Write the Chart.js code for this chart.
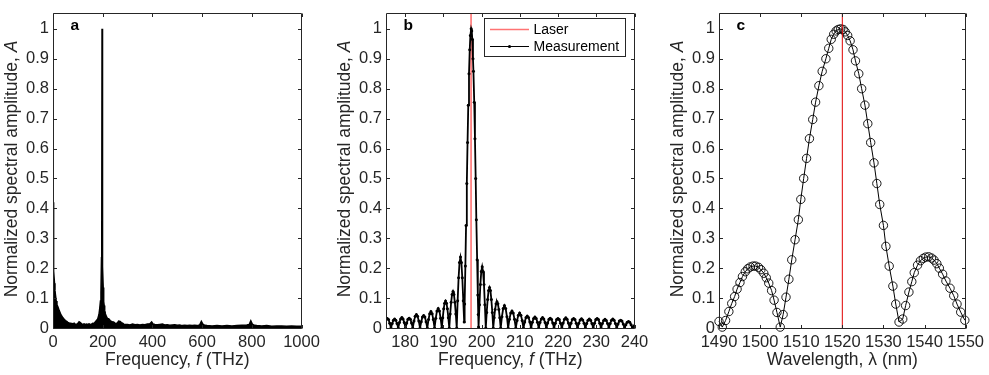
<!DOCTYPE html>
<html>
<head>
<meta charset="utf-8">
<script src="https://cdn.jsdelivr.net/npm/chart.js@4.4.1/dist/chart.umd.min.js"></script>
<style>
  html, body { margin: 0; padding: 0; background: #fff; }
  #wrap { position: relative; width: 989px; height: 375px; overflow: hidden; }
  #wrap canvas { position: absolute; top: 0; }
</style>
</head>
<body>
<div id="wrap">
  <canvas id="pa" width="333" height="375" style="left:0px"></canvas>
  <canvas id="pb" width="333" height="375" style="left:333px"></canvas>
  <canvas id="pc" width="323" height="375" style="left:666px"></canvas>
</div>
<script>
// ---------- tick values ----------
const yTicks  = [0, 0.1, 0.2, 0.3, 0.4, 0.5, 0.6, 0.7, 0.8, 0.9, 1];
const xTicksA = [0, 200, 400, 600, 800, 1000];
const xTicksB = [180, 190, 200, 210, 220, 230, 240];
const xTicksC = [1490, 1500, 1510, 1520, 1530, 1540, 1550];

// ---------- laser reference ----------
const laserFreq = 197.25;        // THz
const laserWavelength = 1520;    // nm

// ---------- (a) full spectrum, 0-1000 THz ----------
const freqA = [
  0, 1, 2, 3, 4, 6, 8, 10, 13, 16, 20, 25, 30, 35, 40, 45, 50, 55, 60, 65, 70, 75, 80, 85, 90, 95,
  100, 105, 110, 115, 120, 125, 130, 135, 140, 145, 150, 155, 160, 165, 170, 175, 180, 185, 188, 191, 193,
  195.2, 196, 197.3, 198.5, 200.1, 202, 204, 206, 208, 211, 216, 220, 224, 230, 235, 240, 244, 250, 255,
  260, 264, 270, 275, 280, 285, 290, 300, 310, 320, 330, 340, 350, 360, 370, 380, 390, 397, 403, 410,
  420, 430, 440, 450, 460, 470, 480, 490, 500, 510, 520, 530, 540, 550, 560, 570, 580, 590, 597, 603,
  610, 620, 640, 660, 680, 700, 720, 740, 760, 780, 790, 796, 802, 810, 820, 840, 860, 880, 900, 920,
  940, 960, 980, 1000
];
const ampA = [
  0.42, 0.39, 0.25, 0.24, 0.19, 0.15, 0.125, 0.11, 0.09, 0.078, 0.07, 0.058, 0.048, 0.04, 0.034, 0.029, 0.025, 0.022, 0.019, 0.017, 0.016, 0.015, 0.014, 0.016, 0.012, 0.013,
  0.015, 0.021, 0.018, 0.014, 0.012, 0.014, 0.011, 0.013, 0.012, 0.014, 0.012, 0.013, 0.016, 0.015, 0.02, 0.025, 0.03, 0.045, 0.065, 0.09, 0.12,
  0.237, 0.16, 1.0, 0.3, 0.205, 0.135, 0.088, 0.075, 0.06, 0.047, 0.036, 0.031, 0.031, 0.025, 0.022, 0.02, 0.02, 0.016, 0.015,
  0.018, 0.023, 0.022, 0.018, 0.016, 0.013, 0.012, 0.012, 0.01, 0.013, 0.011, 0.012, 0.01, 0.012, 0.011, 0.013, 0.014, 0.02, 0.013, 0.012,
  0.011, 0.012, 0.013, 0.01, 0.011, 0.009, 0.01, 0.011, 0.009, 0.01, 0.008, 0.009, 0.008, 0.009, 0.008, 0.009, 0.008, 0.01, 0.022, 0.013,
  0.009, 0.008, 0.007, 0.008, 0.007, 0.008, 0.007, 0.008, 0.009, 0.01, 0.012, 0.024, 0.013, 0.009, 0.008, 0.007, 0.008, 0.006, 0.007, 0.007,
  0.006, 0.007, 0.006, 0.006
];

// ---------- (b) measurement around the laser line, one lobe per row ----------
const freqB = [
  174.4, 174.72, 175.03, 175.35, 175.67, 175.98,
  176.3, 176.62, 176.93, 177.25, 177.57, 177.88,
  178.2, 178.52, 178.83, 179.15, 179.47, 179.78,
  180.1, 180.42, 180.73, 181.05, 181.37, 181.68,
  182.0, 182.32, 182.63, 182.95, 183.27, 183.58,
  183.9, 184.22, 184.53, 184.85, 185.17, 185.48,
  185.8, 186.12, 186.43, 186.75, 187.07, 187.38,
  187.7, 188.02, 188.33, 188.65, 188.97, 189.28,
  189.6, 189.84, 190.09, 190.33, 190.58, 190.82, 191.06, 191.31,
  191.55, 191.79, 192.04, 192.28, 192.53, 192.77, 193.01, 193.26,
  193.5, 193.74, 193.99, 194.23, 194.48, 194.72, 194.96, 195.21,
  195.45, 195.57, 195.76, 195.94, 196.14, 196.33, 196.52, 196.71, 196.9, 197.07, 197.28, 197.43,
  197.58, 197.75, 197.87, 198.08, 198.27, 198.46, 198.63, 198.84, 199.02, 199.13, 199.21,
  199.45, 199.68, 199.92, 200.16, 200.39, 200.63, 200.86,
  201.1, 201.34, 201.59, 201.83, 202.08, 202.32, 202.56, 202.81,
  203.05, 203.29, 203.54, 203.78, 204.03, 204.27, 204.51, 204.76,
  205.0, 205.33, 205.65, 205.98, 206.3, 206.63,
  206.95, 207.28, 207.62, 207.95, 208.28, 208.62,
  208.95, 209.28, 209.62, 209.95, 210.28, 210.62,
  210.95, 211.28, 211.62, 211.95, 212.28, 212.62,
  212.95, 213.28, 213.62, 213.95, 214.28, 214.62,
  214.95, 215.28, 215.62, 215.95, 216.28, 216.62,
  216.95, 217.28, 217.62, 217.95, 218.28, 218.62,
  218.95, 219.29, 219.63, 219.98, 220.32, 220.66,
  221.0, 221.34, 221.68, 222.03, 222.37, 222.71,
  223.05, 223.39, 223.73, 224.08, 224.42, 224.76,
  225.1, 225.44, 225.78, 226.13, 226.47, 226.81,
  227.15, 227.49, 227.83, 228.18, 228.52, 228.86,
  229.2, 229.54, 229.88, 230.23, 230.57, 230.91,
  231.25, 231.59, 231.93, 232.28, 232.62, 232.96,
  233.3, 233.64, 233.98, 234.33, 234.67, 235.01,
  235.35, 235.69, 236.03, 236.38, 236.72, 237.06,
  237.4, 237.74, 238.08, 238.43, 238.77, 239.11,
  239.45, 239.79, 240.13
];
const ampB = [
  0, 0.016, 0.028, 0.032, 0.028, 0.016,
  0, 0.015, 0.026, 0.03, 0.026, 0.015,
  0, 0.018, 0.03, 0.035, 0.03, 0.018,
  0, 0.017, 0.029, 0.033, 0.029, 0.017,
  0, 0.023, 0.039, 0.045, 0.039, 0.023,
  0, 0.021, 0.037, 0.042, 0.037, 0.021,
  0, 0.028, 0.048, 0.055, 0.048, 0.028,
  0, 0.033, 0.057, 0.065, 0.057, 0.033,
  0, 0.034, 0.064, 0.083, 0.09, 0.083, 0.064, 0.034,
  0, 0.047, 0.086, 0.112, 0.122, 0.112, 0.086, 0.047,
  0, 0.091, 0.168, 0.219, 0.237, 0.219, 0.168, 0.091,
  0.02, 0.08, 0.207, 0.343, 0.483, 0.62, 0.745, 0.85, 0.93, 0.978, 1.0, 0.993,
  0.965, 0.9, 0.858, 0.755, 0.633, 0.5, 0.362, 0.228, 0.11, 0.045, 0.003,
  0.078, 0.145, 0.189, 0.205, 0.189, 0.145, 0.078,
  0, 0.052, 0.095, 0.125, 0.135, 0.125, 0.095, 0.052,
  0, 0.034, 0.062, 0.081, 0.088, 0.081, 0.062, 0.034,
  0, 0.038, 0.065, 0.075, 0.065, 0.038,
  0, 0.029, 0.05, 0.057, 0.05, 0.029,
  0, 0.025, 0.043, 0.05, 0.043, 0.025,
  0, 0.02, 0.035, 0.04, 0.035, 0.02,
  0, 0.019, 0.032, 0.037, 0.032, 0.019,
  0, 0.018, 0.03, 0.035, 0.03, 0.018,
  0, 0.017, 0.029, 0.033, 0.029, 0.017,
  0, 0.016, 0.028, 0.032, 0.028, 0.016,
  0, 0.017, 0.029, 0.034, 0.029, 0.017,
  0, 0.016, 0.028, 0.032, 0.028, 0.016,
  0, 0.016, 0.027, 0.031, 0.027, 0.016,
  0, 0.015, 0.026, 0.03, 0.026, 0.015,
  0, 0.016, 0.028, 0.032, 0.028, 0.016,
  0, 0.015, 0.025, 0.029, 0.025, 0.015,
  0, 0.015, 0.026, 0.03, 0.026, 0.015,
  0, 0.013, 0.023, 0.026, 0.023, 0.013,
  0, 0.011, 0.019, 0.022, 0.019, 0.011,
  0, 0.006, 0.01
];

// ---------- (c) measurement on a wavelength axis ----------
const waveC = [
  1490.0, 1490.8, 1491.6, 1492.4, 1493.1, 1493.8, 1494.4, 1495.1, 1495.7, 1496.4, 1497.0, 1497.6,
  1498.3, 1498.9, 1499.6, 1500.2, 1500.9, 1501.5, 1502.1, 1502.8, 1503.4, 1504.1, 1504.9, 1505.6,
  1506.3, 1507.0, 1507.7, 1508.5, 1509.3, 1509.9, 1510.6, 1511.3, 1512.0, 1512.8, 1513.5, 1514.3,
  1515.1, 1516.0, 1516.7, 1517.3, 1517.9, 1518.5, 1519.0, 1519.6, 1520.2, 1520.7, 1521.3, 1521.9,
  1522.6, 1523.2, 1524.0, 1524.7, 1525.5, 1526.2, 1526.9, 1527.7, 1528.4, 1529.1, 1530.0, 1530.6,
  1531.4, 1532.3, 1533.0, 1533.8, 1534.7, 1535.4, 1536.2, 1536.9, 1537.5, 1538.3, 1539.0, 1539.7,
  1540.3, 1541.0, 1541.7, 1542.3, 1543.0, 1543.6, 1544.4, 1545.2, 1546.2, 1547.1, 1547.9, 1548.8,
  1549.8
];
const ampC = [
  0.022, 0.003, 0.025, 0.055, 0.082, 0.105, 0.13, 0.152, 0.172, 0.188, 0.198, 0.204,
  0.207, 0.207, 0.203, 0.195, 0.183, 0.168, 0.15, 0.125, 0.093, 0.052, 0.003, 0.045,
  0.103, 0.163, 0.228, 0.295, 0.362, 0.43, 0.5, 0.567, 0.633, 0.697, 0.755, 0.81,
  0.858, 0.9, 0.935, 0.965, 0.982, 0.993, 0.998, 1.0, 0.998, 0.99, 0.978, 0.96,
  0.93, 0.893, 0.85, 0.8, 0.745, 0.683, 0.62, 0.552, 0.483, 0.413, 0.343, 0.273,
  0.207, 0.14, 0.08, 0.02, 0.03, 0.075, 0.12, 0.155, 0.185, 0.21, 0.225, 0.233,
  0.237, 0.238, 0.234, 0.227, 0.215, 0.2, 0.18, 0.157, 0.133, 0.108, 0.08, 0.053,
  0.026
];

// ---------- styling ----------
const INK = '#262626';
const FONT = '"Liberation Sans", Arial, Helvetica, sans-serif';
const TICK_SIZE = 16.5;
const TITLE_SIZE = 17.5;
const AXIS_W = 53;    // room for y tick labels + y title
const AXIS_H = 47;    // room for x tick labels + x title
const TOP = 8;

const pts = (xs, ys) => xs.map((x, i) => ({ x: x, y: ys[i] }));
const vline = (x) => [{ x: x, y: 0 }, { x: x, y: 1.05 }];

const yTitle = [['Normalized spectral amplitude, ', false], ['A', true]];
const freqTitle = [['Frequency, ', false], ['f', true], [' (THz)', false]];
const waveTitle = [['Wavelength, \u03bb (nm)', false]];

function drawRich(ctx, segs, cx, cy, baseline) {
  const fonts = segs.map(s => (s[1] ? 'italic ' : '') + TITLE_SIZE + 'px ' + FONT);
  let total = 0;
  const widths = segs.map((s, i) => { ctx.font = fonts[i]; const w = ctx.measureText(s[0]).width; total += w; return w; });
  let x = cx - total / 2;
  ctx.textAlign = 'left';
  ctx.textBaseline = baseline;
  segs.forEach((s, i) => { ctx.font = fonts[i]; ctx.fillText(s[0], x, cy); x += widths[i]; });
}

// frame, inner ticks, axis titles, panel letter and (optionally) a legend
function decor(letter, xTitle, legendItems) {
  return {
    id: 'decor' + letter,
    afterDatasetsDraw(chart) {
      const { ctx, chartArea: a, scales } = chart;
      const L = Math.floor(a.left) + 0.5, R = Math.floor(a.right) + 0.5;
      const T = Math.floor(a.top) + 0.5, B = Math.floor(a.bottom) + 0.5;
      ctx.save();
      ctx.strokeStyle = INK;
      ctx.lineWidth = 1;
      ctx.beginPath();
      ctx.rect(L, T, R - L, B - T);
      const tl = 3.5;
      scales.x.ticks.forEach(t => {
        const px = Math.round(scales.x.getPixelForValue(t.value)) + 0.5;
        ctx.moveTo(px, B); ctx.lineTo(px, B - tl);
        ctx.moveTo(px, T); ctx.lineTo(px, T + tl);
      });
      scales.y.ticks.forEach(t => {
        const py = Math.round(scales.y.getPixelForValue(t.value)) + 0.5;
        ctx.moveTo(L, py); ctx.lineTo(L + tl, py);
        ctx.moveTo(R, py); ctx.lineTo(R - tl, py);
      });
      ctx.stroke();

      ctx.fillStyle = INK;
      // x title
      drawRich(ctx, xTitle, (a.left + a.right) / 2, 365, 'alphabetic');
      // y title
      ctx.save();
      ctx.translate(a.left - 41, (a.top + a.bottom) / 2 - 2);
      ctx.rotate(-Math.PI / 2);
      drawRich(ctx, yTitle, 0, 0, 'middle');
      ctx.restore();
      // panel letter
      ctx.fillStyle = '#000';
      ctx.font = 'bold 15.5px ' + FONT;
      ctx.textAlign = 'left';
      ctx.textBaseline = 'alphabetic';
      ctx.fillText(letter, a.left + 17.5, 29.5);

      if (legendItems) {
        const bx = 151.5, by = 18.5, bw = 141, bh = 38;
        ctx.fillStyle = '#fff';
        ctx.fillRect(bx, by, bw, bh);
        ctx.strokeStyle = INK;
        ctx.lineWidth = 1;
        ctx.strokeRect(bx, by, bw, bh);
        legendItems.forEach((it, i) => {
          const y = 29.5 + i * 17;
          ctx.strokeStyle = it.color;
          ctx.lineWidth = it.width;
          ctx.beginPath();
          ctx.moveTo(bx + 5.5, y); ctx.lineTo(bx + 44.5, y);
          ctx.stroke();
          if (it.dot) {
            ctx.fillStyle = it.color;
            ctx.beginPath();
            ctx.arc(bx + 25, y, 1.6, 0, Math.PI * 2);
            ctx.fill();
          }
          ctx.fillStyle = '#000';
          ctx.font = '14px ' + FONT;
          ctx.textAlign = 'left';
          ctx.textBaseline = 'middle';
          ctx.fillText(it.text, bx + 49, y + 0.5);
        });
      }
      ctx.restore();
    }
  };
}

function options(xMin, xMax, xTicks, rightPad) {
  const tickFont = { family: FONT, size: TICK_SIZE };
  return {
    responsive: false,
    animation: false,
    devicePixelRatio: 1,
    layout: { padding: { left: 0, right: rightPad, top: TOP, bottom: 0 } },
    plugins: { legend: { display: false }, tooltip: { enabled: false } },
    scales: {
      x: {
        type: 'linear', min: xMin, max: xMax,
        grid: { display: false, drawTicks: false }, border: { display: false },
        ticks: { font: tickFont, color: INK, padding: 5, maxRotation: 0, autoSkip: false, callback: v => String(v) },
        afterBuildTicks: s => { s.ticks = xTicks.map(v => ({ value: v })); },
        afterFit: s => { s.height = AXIS_H; }
      },
      y: {
        type: 'linear', min: 0, max: 1.05,
        grid: { display: false, drawTicks: false }, border: { display: false },
        ticks: { font: tickFont, color: INK, padding: 4, autoSkip: false, callback: v => String(Math.round(v * 10) / 10) },
        afterBuildTicks: s => { s.ticks = yTicks.map(v => ({ value: v })); },
        afterFit: s => { s.width = AXIS_W; }
      }
    }
  };
}

// (a)
new Chart(document.getElementById('pa'), {
  type: 'line',
  data: {
    datasets: [{
      data: pts(freqA, ampA),
      borderColor: '#000', backgroundColor: '#000', borderWidth: 1.5,
      fill: 'origin', pointRadius: 0
    }]
  },
  options: options(0, 1000, xTicksA, 31.5),
  plugins: [decor('a', freqTitle, null)]
});

// (b)
new Chart(document.getElementById('pb'), {
  type: 'line',
  data: {
    datasets: [
      {
        label: 'Measurement', order: 0,
        data: pts(freqB, ampB),
        borderColor: '#000', backgroundColor: '#000', borderWidth: 1.8,
        pointRadius: 1.5, pointBorderWidth: 0, pointBackgroundColor: '#000'
      },
      {
        label: 'Laser', order: 1,
        data: vline(laserFreq),
        borderColor: '#ff7373', borderWidth: 1.6, pointRadius: 0
      }
    ]
  },
  options: options(175, 240, xTicksB, 31.5),
  plugins: [decor('b', freqTitle, [
    { text: 'Laser', color: '#ff7373', width: 1.6, dot: false },
    { text: 'Measurement', color: '#000', width: 1.2, dot: true }
  ])]
});

// (c)
new Chart(document.getElementById('pc'), {
  type: 'line',
  data: {
    datasets: [
      {
        label: 'Laser', order: 0,
        data: vline(laserWavelength),
        borderColor: '#e00000', borderWidth: 1, pointRadius: 0
      },
      {
        label: 'Measurement', order: 1, clip: false,
        data: pts(waveC, ampC),
        borderColor: '#000', borderWidth: 1,
        pointRadius: 4.2, pointBorderWidth: 0.9, pointBorderColor: '#000',
        pointBackgroundColor: 'rgba(0,0,0,0)'
      }
    ]
  },
  options: options(1490, 1550, xTicksC, 21.5),
  plugins: [decor('c', waveTitle, null)]
});
</script>
</body>
</html>
